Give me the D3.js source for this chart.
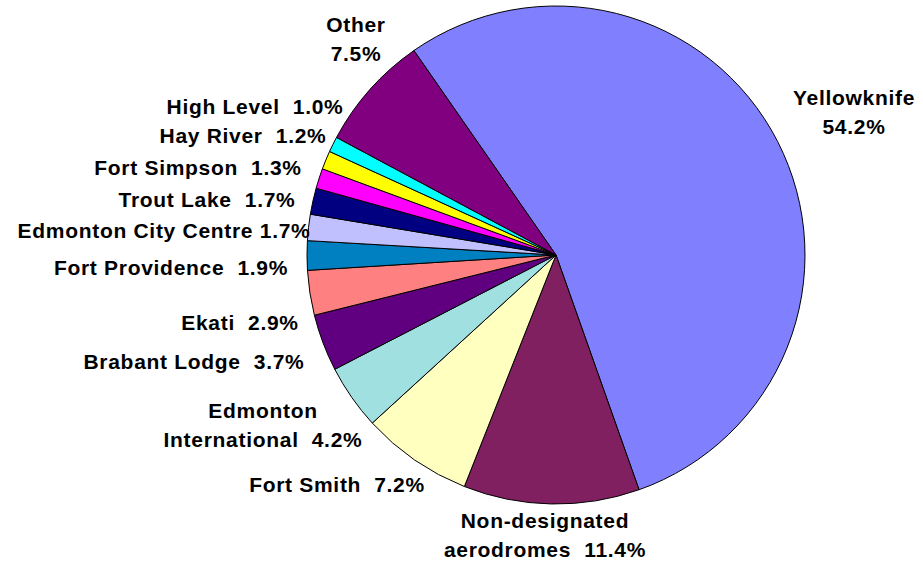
<!DOCTYPE html>
<html>
<head>
<meta charset="utf-8">
<script src="https://cdn.jsdelivr.net/npm/d3@7"></script>
<style>
	body { margin: 0; background: #fff; }
	text { font-family: "Liberation Sans", Arial, sans-serif; font-weight: bold; font-size: 21px; letter-spacing: 0.7px; fill: #000; white-space: pre; }
</style>
</head>
<body>
<main></main>
<script>
// 1. Data

const airports = ["Yellowknife", "Non-designated aerodromes", "Fort Smith", "Edmonton International",
	"Brabant Lodge", "Ekati", "Fort Providence", "Edmonton City Centre", "Trout Lake",
	"Fort Simpson", "Hay River", "High Level", "Other"];
const shares = [54.2, 11.4, 7.2, 4.2, 3.7, 2.9, 1.9, 1.7, 1.7, 1.3, 1.2, 1.0, 7.5];
const sliceColors = ["#8080ff", "#802060", "#ffffc0", "#a0e0e0", "#600080", "#ff8080", "#0080c0",
	"#c0c0ff", "#000080", "#ff00ff", "#ffff00", "#00ffff", "#800080"];

// label text, one entry per line
const labelLines = [
	["Yellowknife", "54.2%"],
	["Non-designated", "aerodromes  11.4%"],
	["Fort Smith  7.2%"],
	["Edmonton", "International  4.2%"],
	["Brabant Lodge  3.7%"],
	["Ekati  2.9%"],
	["Fort Providence  1.9%"],
	["Edmonton City Centre 1.7%"],
	["Trout Lake  1.7%"],
	["Fort Simpson  1.3%"],
	["Hay River  1.2%"],
	["High Level  1.0%"],
	["Other", "7.5%"],
];

// where each label sits: centre x, baseline of first line
const labelAt = [
	[854, 105], [545, 528], [337, 492], [263, 418], [194, 369], [240, 330], [171, 275],
	[164, 238], [207, 207], [198, 175], [243, 143], [255, 114], [356, 32],
];

// 2. Dimensions

const width = 923;
const height = 563;
const cx = 556;
const cy = 255;
const radius = 249;
const lineGap = 29;

// 3. Canvas

const svg = d3.select("main")
	.append("svg")
	.attr("width", width)
	.attr("height", height);

const graph = svg.append("g")
	.attr("transform", `translate(${cx},${cy})`);

// 4. Pie

const rad = deg => deg * Math.PI / 180;
const pie = d3.pie()
	.sort(null)
	.value(d => d)
	.startAngle(rad(-34.8))
	.endAngle(rad(325.2));

const arc = d3.arc()
	.innerRadius(0)
	.outerRadius(radius);

graph.selectAll("path")
	.data(pie(shares))
	.enter()
	.append("path")
	.attr("d", arc)
	.attr("fill", (d, i) => sliceColors[i])
	.attr("stroke", "#000")
	.attr("stroke-width", 1)
	.attr("stroke-linejoin", "round");

// 5. Labels

const labels = svg.selectAll("text.lbl")
	.data(airports)
	.enter()
	.append("text")
	.attr("class", "lbl")
	.attr("text-anchor", "middle")
	.attr("x", (d, i) => labelAt[i][0])
	.attr("y", (d, i) => labelAt[i][1]);

labels.each(function(d, i) {
	d3.select(this).selectAll("tspan")
		.data(labelLines[i])
		.enter()
		.append("tspan")
		.attr("x", labelAt[i][0])
		.attr("dy", (t, j) => j === 0 ? 0 : lineGap)
		.text(t => t);
});
</script>
</body>
</html>
